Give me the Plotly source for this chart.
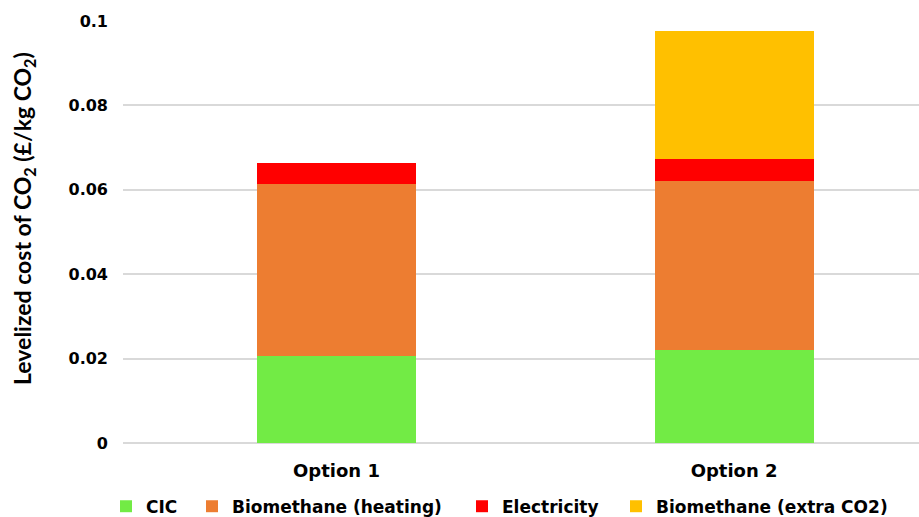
import plotly.graph_objects as go

categories = ["Option 1", "Option 2"]
cic = [0.0206, 0.0220]
bio_heating = [0.0408, 0.0401]
electricity = [0.0050, 0.0052]
bio_extra = [0.0, 0.0304]
series_names = ["CIC", "Biomethane (heating)", "Electricity", "Biomethane (extra CO2)"]
colors = ["#72EB45", "#ED7D31", "#FF0000", "#FFC000"]
y_ticks = [0, 0.02, 0.04, 0.06, 0.08, 0.1]
y_tick_labels = ["0", "0.02", "0.04", "0.06", "0.08", "0.1"]
y_title = "Levelized cost of CO<sub>2</sub> (£/kg CO<sub>2</sub>)"

# legend entry left edges (container pixels)
legend_left_px = [106, 192, 462, 616]

fig = go.Figure()
legend_ids = ["legend", "legend2", "legend3", "legend4"]
for name, vals, col, lid in zip(series_names, [cic, bio_heating, electricity, bio_extra], colors, legend_ids):
    fig.add_trace(go.Bar(x=categories, y=vals, name=name, legend=lid,
                         marker=dict(color=col, line=dict(width=0)), width=0.4))

legend_style = dict(orientation="h", xref="container", xanchor="left", yref="container", y=0.02,
                    yanchor="middle", bgcolor="rgba(0,0,0,0)",
                    font=dict(family="DejaVu Sans", size=17, color="#000000", weight="bold"))
legends = {}
for lid, px in zip(legend_ids, legend_left_px):
    legends[lid] = dict(legend_style, x=px / 919)

fig.update_layout(
    barmode="stack",
    width=919, height=517,
    margin=dict(l=123, r=0, t=21, b=74, autoexpand=False),
    plot_bgcolor="white", paper_bgcolor="white",
    font=dict(family="DejaVu Sans", size=15, color="#000000", weight="bold"),
    showlegend=True,
    **legends,
)
fig.update_xaxes(range=[-0.537, 1.465], showgrid=False, showline=False, zeroline=False, automargin=False,
                 tickfont=dict(family="DejaVu Sans", size=18, color="#000000", weight="bold"),
                 ticks="", ticklabelstandoff=15)
fig.update_yaxes(range=[0, 0.1], tickvals=y_ticks, ticktext=y_tick_labels, showgrid=True, automargin=False,
                 gridcolor="#D9D9D9", gridwidth=1.5, zeroline=True, zerolinecolor="#D9D9D9", zerolinewidth=1.5,
                 showline=False, ticks="", ticklabelstandoff=14,
                 tickfont=dict(family="DejaVu Sans", size=16, color="#000000", weight="bold"))
fig.add_annotation(text=y_title, textangle=-90, xref="paper", yref="paper",
                   x=(24 - 123) / 796, y=(443 - 219) / 422, xanchor="center", yanchor="middle",
                   showarrow=False,
                   font=dict(family="Lato", size=23, color="#000000", weight="bold"))
fig.write_html("out.html")
